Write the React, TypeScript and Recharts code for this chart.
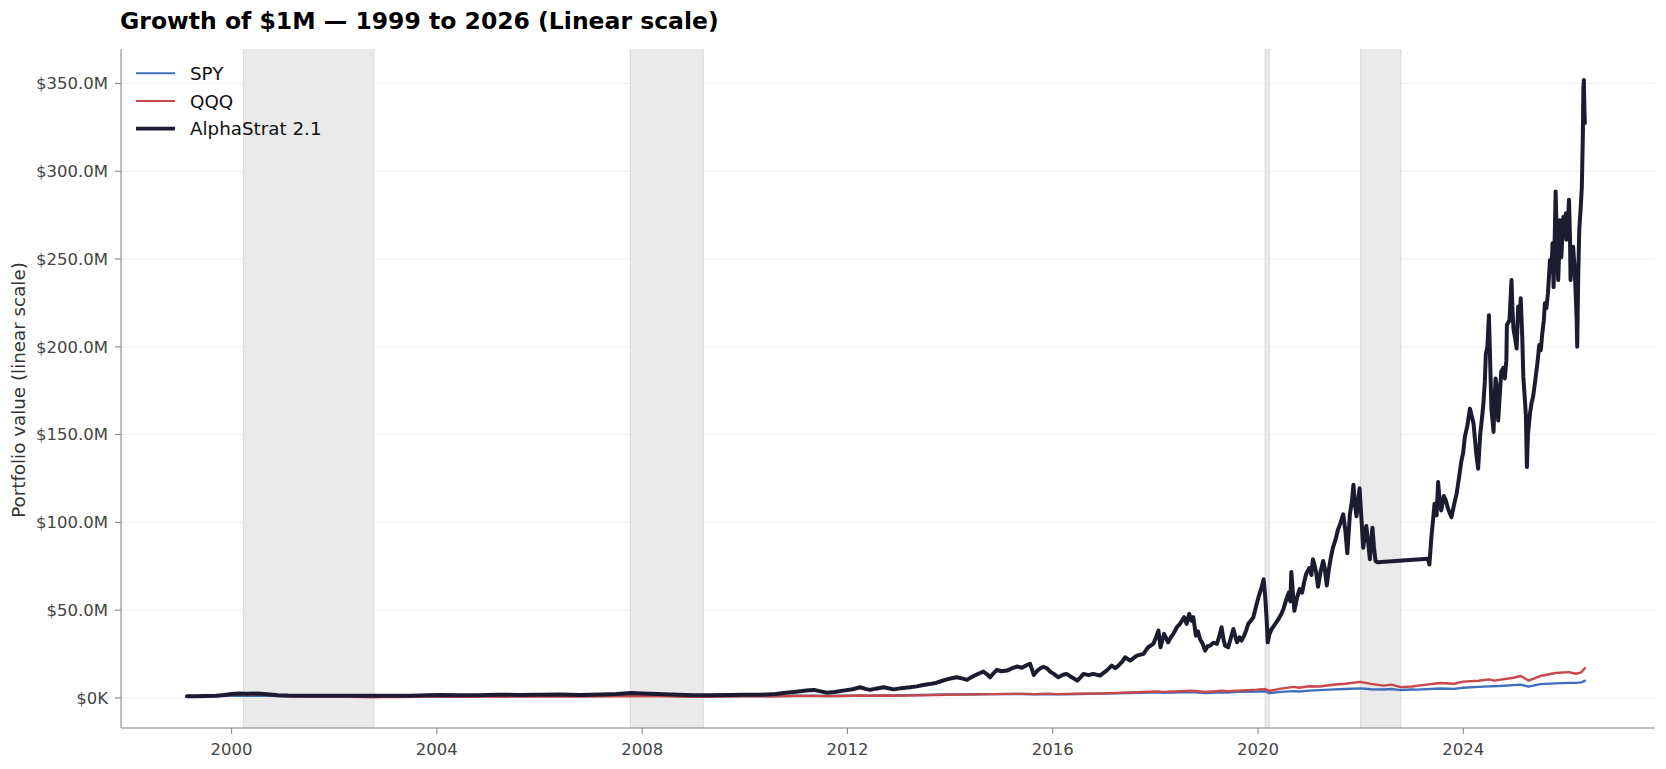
import React from 'react';
import { LineChart, Line, XAxis, YAxis, CartesianGrid, ReferenceArea, ReferenceLine, Legend, Label } from 'recharts';

// [decimal year, portfolio value in $M]
const spy: [number, number][] = [
  [1999.13,1.0],[1999.35,1.07],[1999.55,1.1],[1999.75,1.05],[1999.98,1.2],[2000.2,1.22],[2000.45,1.2],[2000.7,1.22],[2000.95,1.08],[2001.2,0.95],[2001.45,1.0],[2001.72,0.8],[2001.95,0.96],[2002.2,0.95],[2002.55,0.76],[2002.77,0.7],[2002.95,0.78],[2003.2,0.71],[2003.5,0.86],[2003.95,0.97],[2004.6,0.97],[2004.95,1.06],[2005.3,1.03],[2005.6,1.11],[2005.9,1.1],[2006.35,1.19],[2006.5,1.13],[2006.95,1.26],[2007.4,1.41],[2007.6,1.33],[2007.78,1.48],[2008.2,1.24],[2008.4,1.32],[2008.7,1.12],[2008.88,0.85],[2009.0,0.9],[2009.19,0.67],[2009.5,0.92],[2009.95,1.1],[2010.3,1.18],[2010.5,1.02],[2010.95,1.25],[2011.3,1.35],[2011.6,1.1],[2011.95,1.24],[2012.25,1.4],[2012.4,1.3],[2012.7,1.45],[2012.9,1.4],[2013.4,1.7],[2013.95,1.95],[2014.5,2.1],[2014.85,2.2],[2015.4,2.3],[2015.65,2.1],[2015.9,2.22],[2016.1,2.05],[2016.5,2.3],[2016.95,2.5],[2017.5,2.8],[2018.05,3.2],[2018.15,2.95],[2018.7,3.35],[2018.98,2.85],[2019.3,3.3],[2019.4,3.15],[2019.6,3.45],[2019.98,3.7],[2020.14,3.85],[2020.22,2.75],[2020.45,3.5],[2020.7,3.9],[2020.8,3.7],[2021.0,4.2],[2021.5,4.9],[2021.7,5.1],[2021.99,5.45],[2022.2,5.0],[2022.45,4.8],[2022.6,5.1],[2022.78,4.5],[2023.0,4.8],[2023.1,4.75],[2023.55,5.4],[2023.82,5.2],[2024.0,5.8],[2024.3,6.3],[2024.5,6.6],[2024.7,6.8],[2024.98,7.3],[2025.12,7.6],[2025.27,6.5],[2025.5,7.9],[2025.8,8.3],[2026.05,8.6],[2026.2,8.6],[2026.3,8.9],[2026.37,9.8],
];

const qqq: [number, number][] = [
  [1999.13,1.0],[1999.35,1.15],[1999.55,1.2],[1999.75,1.3],[1999.98,1.85],[2000.2,2.25],[2000.35,1.7],[2000.5,1.95],[2000.7,1.85],[2000.95,1.15],[2001.25,0.75],[2001.4,0.95],[2001.72,0.6],[2001.95,0.8],[2002.3,0.65],[2002.55,0.5],[2002.77,0.42],[2002.95,0.5],[2003.2,0.5],[2003.5,0.65],[2003.95,0.75],[2004.6,0.7],[2004.95,0.8],[2005.3,0.72],[2005.6,0.82],[2005.95,0.8],[2006.3,0.85],[2006.55,0.75],[2006.95,0.88],[2007.4,0.95],[2007.6,0.98],[2007.8,1.1],[2008.2,0.9],[2008.4,0.97],[2008.7,0.8],[2008.88,0.6],[2009.0,0.62],[2009.19,0.6],[2009.5,0.8],[2009.95,0.95],[2010.3,1.0],[2010.5,0.9],[2010.95,1.1],[2011.3,1.18],[2011.6,1.05],[2011.95,1.15],[2012.25,1.38],[2012.4,1.25],[2012.7,1.4],[2012.9,1.3],[2013.4,1.5],[2013.95,1.85],[2014.5,2.05],[2014.85,2.2],[2015.4,2.35],[2015.65,2.2],[2015.9,2.45],[2016.1,2.2],[2016.5,2.4],[2016.95,2.6],[2017.5,3.1],[2018.05,3.7],[2018.15,3.45],[2018.7,4.1],[2018.98,3.4],[2019.3,4.1],[2019.4,3.8],[2019.6,4.2],[2019.98,4.75],[2020.14,5.1],[2020.22,4.0],[2020.45,5.3],[2020.7,6.3],[2020.8,5.8],[2021.0,6.7],[2021.2,6.5],[2021.5,7.7],[2021.7,8.1],[2021.99,9.2],[2022.2,8.0],[2022.45,7.0],[2022.6,7.6],[2022.78,6.2],[2023.0,6.5],[2023.2,7.3],[2023.55,8.5],[2023.82,8.1],[2024.0,9.3],[2024.3,9.8],[2024.5,10.6],[2024.6,9.9],[2024.98,11.5],[2025.12,12.5],[2025.27,9.9],[2025.5,12.5],[2025.8,14.2],[2026.05,14.7],[2026.2,13.8],[2026.3,14.6],[2026.37,17.0],
];

const alphaStrat: [number, number][] = [
  [1999.13,1.0],[1999.3,1.05],[1999.5,1.15],[1999.7,1.3],[1999.85,1.7],[2000.0,2.2],[2000.15,2.6],[2000.3,2.4],[2000.5,2.5],[2000.7,2.1],[2000.9,1.6],[2001.1,1.4],[2001.5,1.3],[2002.0,1.25],[2002.5,1.2],[2003.0,1.25],[2003.5,1.3],[2003.8,1.5],[2004.1,1.7],[2004.4,1.5],[2004.8,1.6],[2005.2,1.9],[2005.6,1.7],[2006.0,1.8],[2006.4,2.0],[2006.8,1.7],[2007.2,2.0],[2007.5,2.2],[2007.8,2.9],[2008.0,2.6],[2008.3,2.3],[2008.7,1.9],[2009.0,1.6],[2009.3,1.6],[2009.7,1.7],[2010.0,1.9],[2010.3,1.8],[2010.6,2.3],[2010.8,3.0],[2011.0,3.6],[2011.2,4.2],[2011.35,4.6],[2011.5,3.6],[2011.6,3.0],[2011.75,3.4],[2011.92,4.2],[2012.1,5.0],[2012.25,6.1],[2012.35,5.2],[2012.44,4.6],[2012.55,5.3],[2012.7,6.1],[2012.8,5.5],[2012.9,4.9],[2013.05,5.6],[2013.22,6.1],[2013.35,6.6],[2013.48,7.4],[2013.6,7.9],[2013.74,8.7],[2013.85,9.8],[2013.94,10.6],[2014.05,11.4],[2014.13,11.8],[2014.25,11.0],[2014.33,10.3],[2014.4,11.6],[2014.46,12.5],[2014.55,13.8],[2014.65,15.0],[2014.72,13.5],[2014.78,11.8],[2014.85,14.2],[2014.91,16.0],[2015.0,15.2],[2015.11,15.6],[2015.2,16.8],[2015.3,17.9],[2015.4,17.2],[2015.5,18.8],[2015.56,19.4],[2015.6,16.0],[2015.63,13.1],[2015.7,15.5],[2015.76,16.9],[2015.82,17.8],[2015.89,16.9],[2015.95,15.0],[2016.02,13.7],[2016.11,11.8],[2016.2,13.2],[2016.27,13.7],[2016.37,11.8],[2016.48,9.9],[2016.55,12.0],[2016.6,13.7],[2016.7,13.0],[2016.79,13.7],[2016.92,12.7],[2017.05,15.6],[2017.15,18.4],[2017.22,17.0],[2017.28,18.4],[2017.35,20.5],[2017.41,23.2],[2017.51,21.3],[2017.58,22.8],[2017.64,24.1],[2017.77,25.1],[2017.86,28.9],[2017.96,30.8],[2018.02,35.0],[2018.06,38.4],[2018.1,28.9],[2018.17,36.5],[2018.25,31.7],[2018.3,34.5],[2018.35,36.5],[2018.42,40.3],[2018.48,42.2],[2018.56,46.0],[2018.61,42.2],[2018.66,47.9],[2018.7,44.0],[2018.74,46.0],[2018.79,35.5],[2018.83,38.0],[2018.87,33.6],[2018.92,31.0],[2018.97,27.0],[2019.02,29.5],[2019.07,29.8],[2019.13,31.5],[2019.2,30.8],[2019.25,35.5],[2019.29,40.3],[2019.33,33.0],[2019.36,29.8],[2019.42,28.9],[2019.47,34.0],[2019.52,39.3],[2019.56,35.0],[2019.59,31.7],[2019.64,34.5],[2019.68,32.7],[2019.73,35.5],[2019.77,38.5],[2019.81,42.2],[2019.86,44.0],[2019.91,46.0],[2019.96,52.0],[2020.01,57.4],[2020.07,63.0],[2020.11,67.6],[2020.14,58.0],[2020.17,44.0],[2020.19,31.7],[2020.22,36.0],[2020.26,39.0],[2020.32,41.5],[2020.38,44.0],[2020.45,47.5],[2020.5,51.0],[2020.55,56.0],[2020.6,60.0],[2020.63,55.0],[2020.65,71.8],[2020.68,60.0],[2020.71,49.7],[2020.76,57.0],[2020.81,62.0],[2020.86,60.0],[2020.9,66.0],[2020.94,70.8],[2021.0,74.0],[2021.04,70.0],[2021.07,79.0],[2021.1,76.0],[2021.13,72.0],[2021.17,63.4],[2021.22,72.0],[2021.27,78.0],[2021.3,74.0],[2021.34,64.0],[2021.38,73.0],[2021.42,80.0],[2021.46,85.6],[2021.51,90.0],[2021.56,96.0],[2021.6,99.0],[2021.66,104.6],[2021.7,96.0],[2021.74,82.4],[2021.77,95.0],[2021.79,104.6],[2021.83,112.0],[2021.86,121.5],[2021.89,110.0],[2021.92,103.5],[2021.95,112.0],[2021.98,119.4],[2022.02,100.0],[2022.05,85.6],[2022.08,92.0],[2022.11,98.0],[2022.15,88.0],[2022.18,79.0],[2022.21,90.0],[2022.23,97.0],[2022.26,86.0],[2022.29,78.0],[2022.33,77.3],[2023.31,79.3],[2023.34,76.0],[2023.38,92.0],[2023.41,101.0],[2023.44,110.6],[2023.48,104.0],[2023.51,123.0],[2023.54,112.0],[2023.57,106.8],[2023.62,115.0],[2023.66,112.5],[2023.7,108.0],[2023.77,103.0],[2023.82,110.0],[2023.87,116.3],[2023.92,126.0],[2023.96,134.4],[2024.0,140.0],[2024.03,148.6],[2024.08,155.0],[2024.13,164.8],[2024.17,160.0],[2024.2,156.3],[2024.25,140.0],[2024.29,130.6],[2024.33,150.0],[2024.36,158.0],[2024.39,166.7],[2024.42,180.0],[2024.44,196.0],[2024.47,200.0],[2024.5,218.0],[2024.53,185.0],[2024.55,164.0],[2024.57,158.0],[2024.59,151.5],[2024.61,170.0],[2024.63,182.0],[2024.66,175.0],[2024.68,158.0],[2024.71,172.0],[2024.74,185.8],[2024.78,188.0],[2024.81,182.0],[2024.84,192.4],[2024.85,212.4],[2024.9,215.0],[2024.94,238.0],[2024.96,220.0],[2024.98,209.6],[2025.01,205.0],[2025.04,199.0],[2025.07,222.9],[2025.1,215.0],[2025.12,227.6],[2025.15,205.0],[2025.17,183.0],[2025.2,170.0],[2025.22,161.0],[2025.24,131.5],[2025.26,150.0],[2025.3,162.0],[2025.33,168.0],[2025.36,171.5],[2025.39,178.0],[2025.42,184.8],[2025.45,192.0],[2025.48,201.0],[2025.51,198.0],[2025.54,207.7],[2025.57,215.0],[2025.59,224.8],[2025.62,222.0],[2025.65,230.5],[2025.67,240.0],[2025.69,249.5],[2025.72,245.0],[2025.74,259.0],[2025.76,234.0],[2025.78,260.0],[2025.8,288.5],[2025.82,265.0],[2025.85,238.0],[2025.87,255.0],[2025.88,272.0],[2025.91,251.0],[2025.93,262.0],[2025.95,274.0],[2025.98,266.0],[2026.0,276.0],[2026.01,261.0],[2026.04,270.0],[2026.06,283.8],[2026.08,262.0],[2026.09,238.0],[2026.12,250.0],[2026.14,257.0],[2026.17,245.0],[2026.19,230.5],[2026.21,215.0],[2026.22,200.0],[2026.24,240.0],[2026.26,266.6],[2026.29,280.0],[2026.31,291.0],[2026.33,320.0],[2026.34,346.6],[2026.35,352.0],[2026.36,335.0],[2026.37,327.5],
];

const bearStarts = [2000.23, 2007.77, 2020.14, 2022.0];
const bearEnds = [2002.77, 2009.19, 2020.22, 2022.78];
const xTicks = [2000, 2004, 2008, 2012, 2016, 2020, 2024];
const yTicks = [0, 50, 100, 150, 200, 250, 300, 350];

const toRows = (arr: [number, number][]) => arr.map(([t, v]) => ({ t, v }));

const series = [
  { name: 'SPY', color: '#3d6fbe', width: 2.4, legendWidth: 2, data: toRows(spy) },
  { name: 'QQQ', color: '#c8474b', width: 2.4, legendWidth: 2, data: toRows(qqq) },
  { name: 'AlphaStrat 2.1', color: '#1c1c31', width: 4, legendWidth: 3.8, data: toRows(alphaStrat) },
];

const FONT = '"DejaVu Sans", Verdana, sans-serif';

const fmtY = (v: number) => (v === 0 ? '$0K' : `$${v.toFixed(1)}M`);

const LegendBox = () => (
  <svg width={340} height={150} style={{ display: 'block' }}>
    {series.map((s, i) => {
      const y = 65.3 + i * 27.7;
      return (
        <g key={s.name}>
          <line x1={128} x2={167} y1={y} y2={y} stroke={s.color} strokeWidth={s.legendWidth} />
          <text x={182} y={y} dy="0.36em" fontFamily={FONT} fontSize={18.3} fill="#111">{s.name}</text>
        </g>
      );
    })}
  </svg>
);

export default function App() {
  return (
    <div style={{ position: 'relative', width: 1650, height: 761 }}>
      <div
        style={{
          position: 'absolute', left: 112, top: 2, fontFamily: FONT, fontWeight: 'bold',
          fontSize: 23.5, lineHeight: 1, color: '#000', whiteSpace: 'nowrap', zIndex: 2,
        }}
      >
        Growth of $1M — 1999 to 2026 (Linear scale)
      </div>
      <LineChart width={1650} height={761} margin={{ top: 41, right: 3, bottom: 11, left: 53 }}>
        <CartesianGrid vertical={false} horizontalValues={yTicks} stroke="#efefef" strokeWidth={1} />
        {bearStarts.map((s, i) => (
          <ReferenceArea key={`a${i}`} x1={s} x2={bearEnds[i]} fill="#eaeaea" fillOpacity={1} stroke="none" ifOverflow="hidden" />
        ))}
        {bearStarts.map((s, i) => (
          <ReferenceLine key={`s${i}`} x={s} stroke="#d9d9d9" strokeWidth={1} />
        ))}
        {bearEnds.map((s, i) => (
          <ReferenceLine key={`e${i}`} x={s} stroke="#d9d9d9" strokeWidth={1} />
        ))}
        <XAxis
          dataKey="t" type="number" domain={[1997.845, 2027.736]} ticks={xTicks} allowDataOverflow
          height={30} tickSize={6} tickMargin={9} stroke="#808080"
          tick={{ fill: '#444', fontSize: 16.5, fontFamily: FONT }}
          tickLine={{ stroke: '#808080' }}
        />
        <YAxis
          type="number" domain={[-17.1, 369.6]} ticks={yTicks} allowDataOverflow width={60}
          tickSize={6} tickMargin={7} stroke="#808080" tickFormatter={fmtY}
          tick={{ fill: '#444', fontSize: 16.5, fontFamily: FONT }}
          tickLine={{ stroke: '#808080' }}
        >
          <Label
            content={() => (
              <text x={10.5} y={382} transform="rotate(-90 10.5 382)" dy="0.35em" textAnchor="middle"
                fontFamily={FONT} fontSize={18.3} fill="#333">
                Portfolio value (linear scale)
              </text>
            )}
          />
        </YAxis>
        {series.map((s) => (
          <Line
            key={s.name} data={s.data} dataKey="v" name={s.name} type="linear" dot={false}
            stroke={s.color} strokeWidth={s.width} strokeLinejoin="round" strokeLinecap="round"
            isAnimationActive={false} activeDot={false}
          />
        ))}
        <Legend
          layout="vertical" align="center" verticalAlign="middle"
          wrapperStyle={{ top: 0, left: 0, width: 340, height: 150 }}
          content={() => <LegendBox />}
        />
      </LineChart>
    </div>
  );
}
